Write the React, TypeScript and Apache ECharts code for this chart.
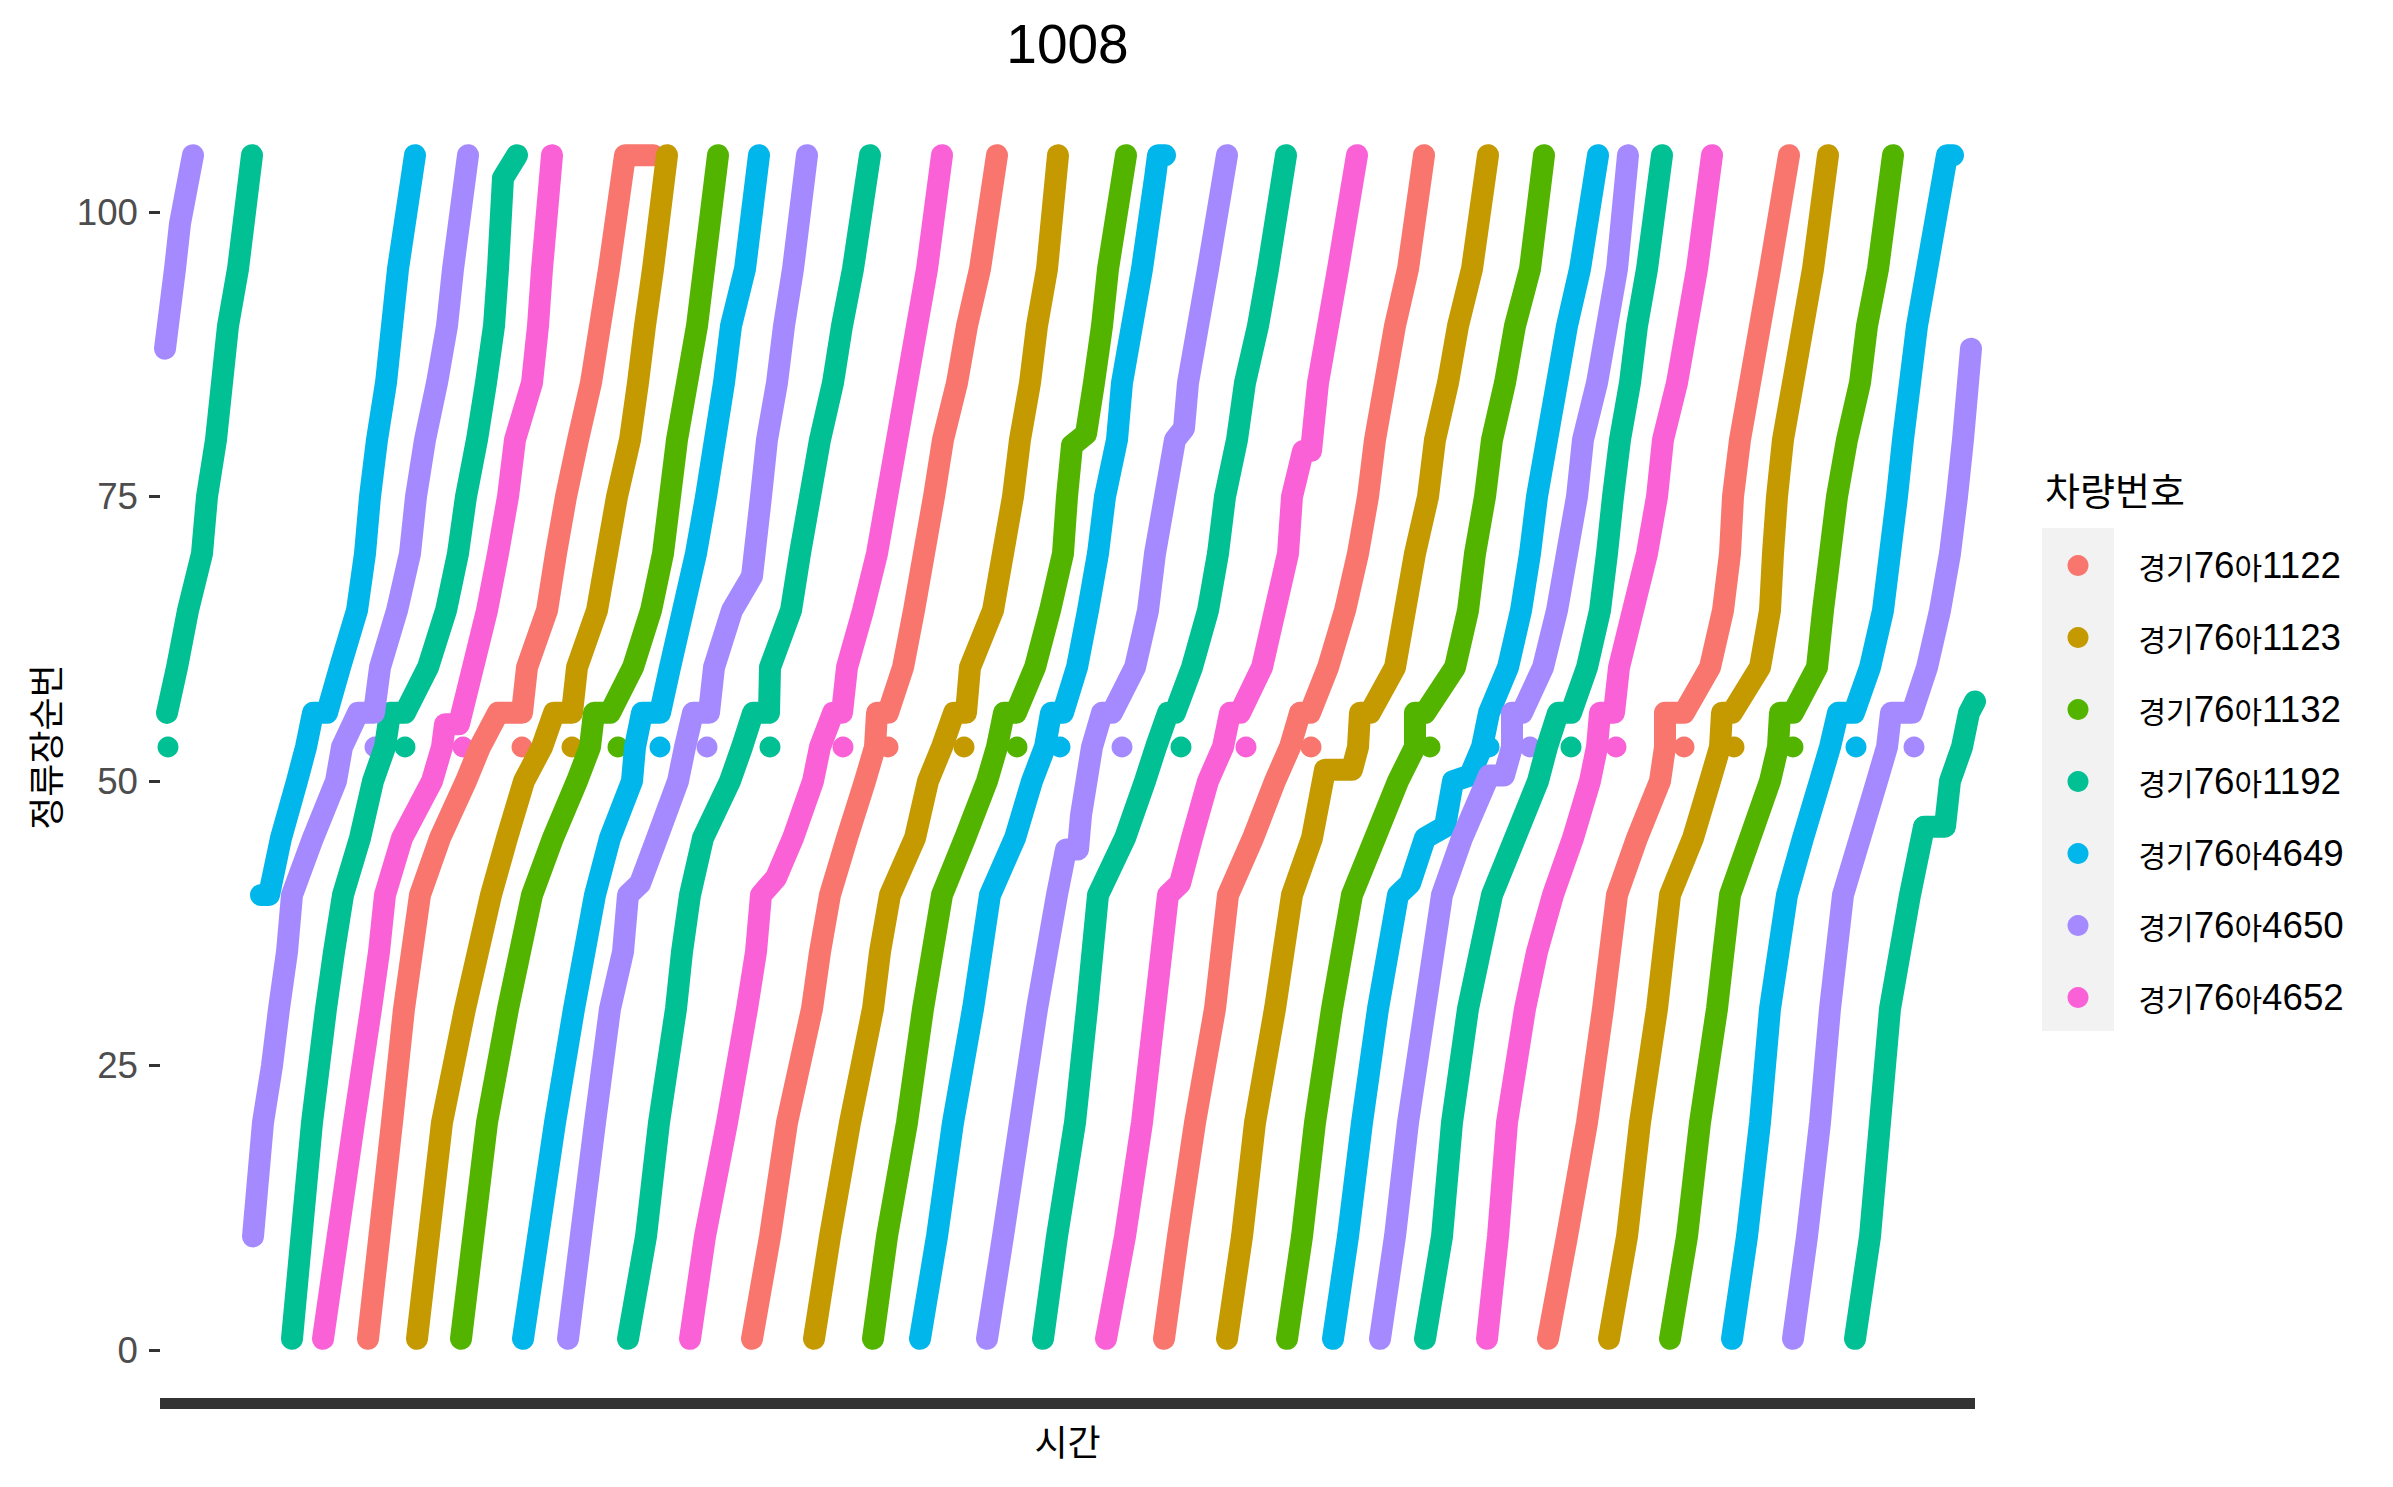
import { useEffect, useRef } from "react";
import * as echarts from "echarts";

// ---------- data ----------
const chartTitle = "1008";
const xName = "시간";
const yName = "정류장순번";
const legendTitle = "차량번호";
const vehicles = [
  "경기76아1122",
  "경기76아1123",
  "경기76아1132",
  "경기76아1192",
  "경기76아4649",
  "경기76아4650",
  "경기76아4652",
];
const palette = ["#F8766D", "#C49A00", "#53B400", "#00C094", "#00B6EB", "#A58AFF", "#FB61D7"];
const stopTicks = [0, 25, 50, 75, 100];

// trips: [time, stop order] pairs (time in arbitrary units)
const trips1122 = [
  [[368,1],[392,20],[404,30],[420,40],[440,45],[466,50],[480,53],[498,56],[522,56],[527,60],[547,65],[556,70],[566,75],[578,80],[591,85],[600,90],[609,95],[625,105],[653,105]],
  [[752,1],[770,10],[787,20],[812,30],[820,35],[830,40],[847,45],[865,50],[875,53],[877,56],[888,56],[903,60],[914,65],[924,70],[934,75],[943,80],[957,85],[967,90],[980,95],[997,105]],
  [[1164,1],[1178,10],[1195,20],[1215,30],[1228,40],[1253,45],[1275,50],[1290,53],[1300,56],[1310,56],[1328,60],[1345,65],[1358,70],[1368,75],[1375,80],[1385,85],[1395,90],[1408,95],[1424,105]],
  [[1548,1],[1567,10],[1587,20],[1603,30],[1617,40],[1637,45],[1660,50],[1665,53],[1665,56],[1684,56],[1710,60],[1723,65],[1730,70],[1733,75],[1740,80],[1750,85],[1760,90],[1770,95],[1789,105]],
];
const dots1122 = [[522,53],[888,53],[1311,53],[1684,53]];

const trips1123 = [
  [[417,1],[442,20],[465,30],[491,40],[507,45],[524,50],[542,53],[554,56],[572,56],[577,60],[597,65],[607,70],[617,75],[630,80],[638,85],[645,90],[653,95],[667,105]],
  [[814,1],[830,10],[850,20],[873,30],[880,35],[890,40],[915,45],[928,50],[942,53],[954,56],[966,56],[970,60],[993,65],[1003,70],[1013,75],[1020,80],[1030,85],[1037,90],[1047,95],[1058,105]],
  [[1227,1],[1242,10],[1255,20],[1275,30],[1292,40],[1312,45],[1325,51],[1352,51],[1358,53],[1360,56],[1370,56],[1395,60],[1405,65],[1415,70],[1428,75],[1435,80],[1448,85],[1458,90],[1472,95],[1488,105]],
  [[1609,1],[1627,10],[1640,20],[1657,30],[1670,40],[1693,45],[1710,50],[1720,53],[1722,56],[1732,56],[1760,60],[1770,65],[1773,70],[1777,75],[1783,80],[1793,85],[1803,90],[1813,95],[1828,105]],
];
const dots1123 = [[572,53],[964,53],[1734,53]];

const trips1132 = [
  [[461,1],[487,20],[508,30],[532,40],[553,45],[577,50],[590,53],[594,56],[610,56],[633,60],[651,65],[663,70],[670,75],[677,80],[687,85],[697,90],[704,95],[718,105]],
  [[873,1],[887,10],[907,20],[923,30],[942,40],[965,45],[987,50],[997,53],[1004,56],[1016,56],[1035,60],[1050,65],[1063,70],[1067,75],[1072,79.5],[1086,80.5],[1094,85],[1102,90],[1108,95],[1126,105]],
  [[1287,1],[1302,10],[1315,20],[1332,30],[1352,40],[1375,45],[1398,50],[1415,53],[1415,56],[1425,56],[1455,60],[1468,65],[1475,70],[1485,75],[1492,80],[1505,85],[1515,90],[1530,95],[1544,105]],
  [[1670,1],[1687,10],[1700,20],[1717,30],[1730,40],[1750,45],[1770,50],[1778,53],[1780,56],[1793,56],[1817,60],[1823,65],[1830,70],[1837,75],[1847,80],[1860,85],[1867,90],[1878,95],[1893,105]],
];
const dots1132 = [[618,53],[1017,53],[1430,53],[1793,53]];

const trips1192 = [
  [[167,56],[177,60],[188,65],[202,70],[207,75],[216,80],[222,85],[228,90],[238,95],[252,105]],
  [[292,1],[312,20],[326,30],[334,35],[343,40],[360,45],[373,50],[385,53],[390,56],[405,56],[428,60],[446,65],[458,70],[466,75],[477,80],[486,85],[494,90],[498,95],[503,103],[517,105]],
  [[628,1],[646,10],[659,20],[676,30],[682,35],[690,40],[703,45],[730,50],[742,53],[753,56],[769,56],[770,60],[791,65],[800,70],[810,75],[820,80],[833,85],[842,90],[853,95],[870,105]],
  [[1043,1],[1057,10],[1075,20],[1087,30],[1098,40],[1125,45],[1145,50],[1156,53],[1168,56],[1175,56],[1192,60],[1208,65],[1218,70],[1225,75],[1237,80],[1245,85],[1258,90],[1268,95],[1286,105]],
  [[1425,1],[1442,10],[1452,20],[1468,30],[1492,40],[1515,45],[1538,50],[1547,53],[1558,56],[1571,56],[1587,60],[1600,65],[1607,70],[1613,75],[1620,80],[1630,85],[1637,90],[1647,95],[1662,105]],
  [[1855,1],[1870,10],[1880,20],[1890,30],[1910,40],[1924,46],[1945,46],[1950,50],[1962,53],[1969,56],[1975,57]],
];
const dots1192 = [[168,53],[405,53],[770,53],[1181,53],[1571,53]];

const trips4649 = [
  [[261,40],[269,40],[281,45],[297,50],[306,53],[313,56],[327,56],[340,60],[357,65],[365,70],[370,75],[377,80],[386,85],[392,90],[398,95],[415,105]],
  [[523,1],[555,20],[574,30],[595,40],[610,45],[632,50],[635,53],[642,56],[660,56],[670,60],[683,65],[696,70],[706,75],[715,80],[724,85],[731,90],[745,95],[759,105]],
  [[920,1],[937,10],[953,20],[973,30],[990,40],[1015,45],[1032,50],[1045,53],[1051,56],[1063,56],[1077,60],[1088,65],[1098,70],[1105,75],[1117,80],[1122,85],[1132,90],[1142,95],[1155,103],[1158,105],[1165,105]],
  [[1333,1],[1348,10],[1362,20],[1378,30],[1398,40],[1410,41],[1425,45],[1445,46],[1453,50],[1470,50.5],[1482,53],[1489,56],[1508,60],[1521,65],[1530,70],[1537,75],[1547,80],[1557,85],[1567,90],[1580,95],[1598,105]],
  [[1732,1],[1747,10],[1760,20],[1770,30],[1787,40],[1803,45],[1820,50],[1830,53],[1838,56],[1854,56],[1870,60],[1883,65],[1890,70],[1897,75],[1903,80],[1910,85],[1917,90],[1927,95],[1947,105],[1953,105]],
];
const dots4649 = [[660,53],[1060,53],[1489,53],[1856,53]];

const trips4650 = [
  [[165,88],[175,95],[180,99],[193,105]],
  [[253,10],[263,20],[272,25],[279,30],[287,35],[292,40],[313,45],[336,50],[342,53],[358,56],[374,56],[380,60],[397,65],[410,70],[416,75],[425,80],[437,85],[447,90],[453,95],[468,105]],
  [[568,1],[595,20],[610,30],[623,35],[628,40],[640,41],[657,45],[678,50],[685,53],[693,56],[709,56],[714,60],[732,65],[752,68],[761,75],[767,80],[777,85],[784,90],[793,95],[807,105]],
  [[987,1],[1003,10],[1020,20],[1037,30],[1057,40],[1066,44],[1078,44],[1081,47],[1092,53],[1102,56],[1112,56],[1135,60],[1148,65],[1155,70],[1165,75],[1175,80],[1184,81],[1188,85],[1198,90],[1208,95],[1227,105]],
  [[1380,1],[1395,10],[1408,20],[1425,30],[1442,40],[1462,45],[1489,50.5],[1504,50.5],[1512,53],[1512,56],[1522,56],[1543,60],[1557,65],[1567,70],[1577,75],[1583,80],[1597,85],[1607,90],[1617,95],[1628,105]],
  [[1793,1],[1807,10],[1820,20],[1830,30],[1843,40],[1860,45],[1877,50],[1887,53],[1891,56],[1912,56],[1927,60],[1940,65],[1950,70],[1957,75],[1963,80],[1968,85],[1971,88]],
];
const dots4650 = [[375,53],[707,53],[1122,53],[1530,53],[1914,53]];

const trips4652 = [
  [[323,1],[354,20],[371,30],[379,35],[385,40],[402,45],[432,50],[442,53],[445,55],[459,55],[473,60],[487,65],[498,70],[508,75],[515,80],[532,85],[538,90],[542,95],[552,105]],
  [[690,1],[705,10],[727,20],[747,30],[756,35],[761,40],[776,41.5],[793,45],[813,50],[820,53],[833,56],[842,56],[847,60],[863,65],[877,70],[887,75],[897,80],[907,85],[917,90],[927,95],[942,105]],
  [[1106,1],[1125,10],[1142,20],[1155,30],[1168,40],[1180,41],[1192,45],[1208,50],[1223,53],[1230,56],[1240,56],[1262,60],[1275,65],[1288,70],[1292,75],[1303,79],[1311,79],[1318,85],[1328,90],[1338,95],[1357,105]],
  [[1487,1],[1498,10],[1507,20],[1525,30],[1537,35],[1553,40],[1573,45],[1590,50],[1597,53],[1600,56],[1614,56],[1619,60],[1633,65],[1647,70],[1657,75],[1663,80],[1677,85],[1687,90],[1697,95],[1712,105]],
];
const dots4652 = [[463,53],[843,53],[1246,53],[1616,53]];

const tripsByVehicle = [trips1122, trips1123, trips1132, trips1192, trips4649, trips4650, trips4652];
const dotsByVehicle = [dots1122, dots1123, dots1132, dots1192, dots4649, dots4650, dots4652];

// ---------- chart ----------
const LATIN = "'Liberation Sans', Arial, sans-serif";
const KOREAN = "'Noto Sans CJK KR', sans-serif";

export default function App() {
  const ref = useRef<HTMLDivElement>(null);

  useEffect(() => {
    if (!ref.current) return;
    const chart = echarts.init(ref.current, null, { renderer: "svg" });

    const series: any[] = [];
    vehicles.forEach((name, i) => {
      tripsByVehicle[i].forEach((trip) => {
        series.push({
          type: "line",
          name,
          data: trip,
          symbol: "none",
          showSymbol: false,
          silent: true,
          lineStyle: { width: 22, color: palette[i], cap: "round", join: "round" },
          itemStyle: { color: palette[i] },
          emphasis: { disabled: true },
        });
      });
      series.push({
        type: "scatter",
        name,
        data: dotsByVehicle[i],
        symbol: "circle",
        symbolSize: 21,
        silent: true,
        itemStyle: { color: palette[i], opacity: 1 },
        emphasis: { disabled: true },
      });
    });

    chart.setOption({
      animation: false,
      backgroundColor: "#FFFFFF",
      grid: { left: 160, right: 418, top: 96, bottom: 89, containLabel: false },
      xAxis: {
        type: "value",
        min: 160,
        max: 1975,
        offset: 5.5,
        axisLine: { show: true, onZero: false, lineStyle: { color: "#333333", width: 11, cap: "butt" } },
        axisTick: { show: false },
        axisLabel: { show: false },
        splitLine: { show: false },
      },
      yAxis: {
        type: "value",
        min: -4.2,
        max: 110.2,
        axisLine: { show: false },
        axisTick: {
          show: true,
          length: 11,
          customValues: stopTicks,
          lineStyle: { color: "#333333", width: 3 },
        },
        axisLabel: {
          show: true,
          customValues: stopTicks,
          margin: 22,
          color: "#4D4D4D",
          fontSize: 36.7,
          fontFamily: LATIN,
        },
        splitLine: { show: false },
      },
      legend: {
        data: vehicles,
        orient: "vertical",
        left: 2067.5,
        top: 547,
        padding: 0,
        itemWidth: 21,
        itemHeight: 21,
        itemGap: 35,
        icon: "circle",
        selectedMode: false,
        formatter: (name: string) =>
          `{k|${name.slice(0, 2)}}{n|${name.slice(2, 4)}}{k|${name.slice(4, 5)}}{n|${name.slice(5)}}`,
        textStyle: {
          padding: [0, 0, 0, 45],
          color: "#000000",
          fontSize: 36.7,
          fontFamily: LATIN,
          rich: {
            k: { fontFamily: KOREAN, fontSize: 30, color: "#000000", lineHeight: 40 },
            n: { fontFamily: LATIN, fontSize: 36.7, color: "#000000", lineHeight: 40 },
          },
        },
      },
      graphic: [
        {
          type: "rect",
          z: 0,
          shape: { x: 2042, y: 528, width: 72, height: 503 },
          style: { fill: "#F2F2F2" },
          silent: true,
        },
        {
          type: "text",
          x: 1067.5,
          y: 44,
          style: {
            text: chartTitle,
            fontSize: 55,
            fontFamily: LATIN,
            fill: "#000000",
            align: "center",
            verticalAlign: "middle",
          },
        },
        {
          type: "text",
          x: 1067.5,
          y: 1440,
          style: {
            text: xName,
            fontSize: 36,
            fontFamily: KOREAN,
            fill: "#000000",
            align: "center",
            verticalAlign: "middle",
          },
        },
        {
          type: "text",
          x: 43.5,
          y: 747,
          rotation: Math.PI / 2,
          style: {
            text: yName,
            fontSize: 36,
            fontFamily: KOREAN,
            fill: "#000000",
            align: "center",
            verticalAlign: "middle",
          },
        },
        {
          type: "text",
          x: 2045,
          y: 488,
          style: {
            text: legendTitle,
            fontSize: 38,
            fontFamily: KOREAN,
            fill: "#000000",
            align: "left",
            verticalAlign: "middle",
          },
        },
      ],
      series,
    });

    return () => chart.dispose();
  }, []);

  return (
    <div
      ref={ref}
      style={{ position: "absolute", left: 0, top: 0, width: 2393, height: 1487 }}
    />
  );
}
